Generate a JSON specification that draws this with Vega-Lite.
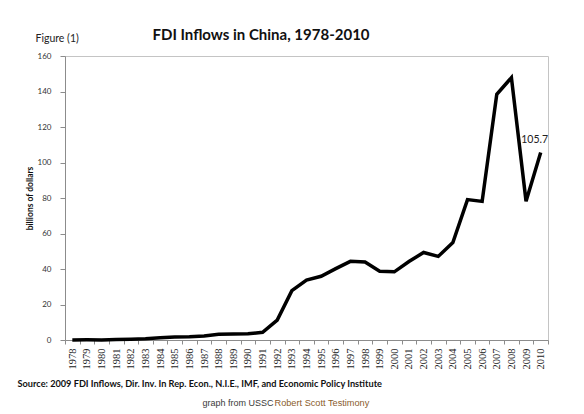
{
  "$schema": "https://vega.github.io/schema/vega-lite/v6.json",
  "width": 483,
  "height": 284,
  "autosize": "none",
  "padding": {"left": 65, "top": 56, "right": 36, "bottom": 74},
  "background": "#ffffff",
  "data": {
    "values": [
      {"year": "1978", "fdi": 0.0},
      {"year": "1979", "fdi": 0.08},
      {"year": "1980", "fdi": 0.06},
      {"year": "1981", "fdi": 0.27},
      {"year": "1982", "fdi": 0.43},
      {"year": "1983", "fdi": 0.64},
      {"year": "1984", "fdi": 1.26},
      {"year": "1985", "fdi": 1.66},
      {"year": "1986", "fdi": 1.88},
      {"year": "1987", "fdi": 2.31},
      {"year": "1988", "fdi": 3.19},
      {"year": "1989", "fdi": 3.39},
      {"year": "1990", "fdi": 3.49},
      {"year": "1991", "fdi": 4.37},
      {"year": "1992", "fdi": 11.2},
      {"year": "1993", "fdi": 27.8},
      {"year": "1994", "fdi": 33.8},
      {"year": "1995", "fdi": 35.9},
      {"year": "1996", "fdi": 40.2},
      {"year": "1997", "fdi": 44.3},
      {"year": "1998", "fdi": 43.9},
      {"year": "1999", "fdi": 38.7},
      {"year": "2000", "fdi": 38.4},
      {"year": "2001", "fdi": 44.2},
      {"year": "2002", "fdi": 49.3},
      {"year": "2003", "fdi": 47.1},
      {"year": "2004", "fdi": 54.9},
      {"year": "2005", "fdi": 79.1},
      {"year": "2006", "fdi": 78.1},
      {"year": "2007", "fdi": 138.4},
      {"year": "2008", "fdi": 147.8},
      {"year": "2009", "fdi": 78.2},
      {"year": "2010", "fdi": 105.7}
    ]
  },
  "resolve": {"axis": {"x": "independent", "y": "independent"}},
  "layer": [
    {
      "mark": {"type": "line", "color": "#000000", "strokeWidth": 3.5, "strokeJoin": "miter"},
      "encoding": {
        "x": {
          "field": "year",
          "type": "ordinal",
          "bandPosition": 0.5,
          "scale": {"type": "band", "paddingInner": 0, "paddingOuter": 0},
          "axis": {
            "orient": "bottom",
            "labelAngle": -90,
            "labelAlign": "right",
            "labelBaseline": "middle",
            "labelFont": "Liberation Serif",
            "labelFontSize": 10.5,
            "labelColor": "#222222",
            "labelPadding": 4,
            "tickBand": "extent",
            "tickSize": 4,
            "tickColor": "#8c8c8c",
            "domainColor": "#8c8c8c",
            "title": "Source: 2009 FDI Inflows, Dir. Inv. In Rep. Econ., N.I.E., IMF, and Economic Policy Institute",
            "titleFont": "Lato",
            "titleFontSize": 9.2,
            "titleFontWeight": "bold",
            "titleColor": "#111111",
            "titleAnchor": "start",
            "titleAlign": "left",
            "titleBaseline": "alphabetic",
            "titleX": -48,
            "titleY": 46
          }
        },
        "y": {
          "field": "fdi",
          "type": "quantitative",
          "scale": {"domain": [0, 160], "nice": false, "zero": true},
          "axis": {
            "orient": "left",
            "values": [0, 20, 40, 60, 80, 100, 120, 140, 160],
            "labelFont": "Lato",
            "labelFontSize": 8,
            "labelColor": "#333333",
            "labelPadding": 9,
            "tickSize": 5,
            "tickColor": "#8c8c8c",
            "domainColor": "#8c8c8c",
            "title": "billions of dollars",
            "titleFont": "Lato",
            "titleFontSize": 8.5,
            "titleFontWeight": "bold",
            "titleColor": "#111111",
            "titleAngle": -90,
            "titleAlign": "center",
            "titleBaseline": "middle",
            "titleX": -36,
            "titleY": 142
          }
        }
      }
    },
    {
      "transform": [{"filter": "datum.year == '2010'"}],
      "mark": {"type": "text", "font": "Lato", "fontSize": 10.5, "color": "#222222", "align": "center", "baseline": "alphabetic", "dx": -6, "dy": -9},
      "encoding": {
        "x": {
          "field": "year",
          "type": "ordinal",
          "bandPosition": 0.5,
          "axis": {
            "orient": "top",
            "labels": false,
            "ticks": false,
            "domain": false,
            "title": "FDI Inflows in China, 1978-2010",
            "titleFont": "Lato",
            "titleFontSize": 15,
            "titleFontWeight": "bold",
            "titleColor": "#111111",
            "titleAnchor": "start",
            "titleAlign": "left",
            "titleBaseline": "alphabetic",
            "titleX": 87,
            "titleY": -17
          }
        },
        "y": {
          "field": "fdi",
          "type": "quantitative",
          "axis": {
            "orient": "right",
            "labels": false,
            "ticks": false,
            "domain": false,
            "title": "graph from USSC",
            "titleFont": "Liberation Sans",
            "titleFontSize": 9,
            "titleFontWeight": "normal",
            "titleColor": "#3a3a3a",
            "titleAngle": 0,
            "titleAlign": "left",
            "titleBaseline": "alphabetic",
            "titleX": -346,
            "titleY": 349.5
          }
        },
        "text": {"field": "fdi", "type": "quantitative", "format": ".1f"}
      }
    },
    {
      "transform": [{"filter": "datum.year == '2010'"}],
      "mark": {"type": "point", "opacity": 0},
      "encoding": {
        "x": {
          "field": "year",
          "type": "ordinal",
          "bandPosition": 0.5,
          "axis": {
            "orient": "top",
            "labels": false,
            "ticks": false,
            "domain": false,
            "title": "Figure (1)",
            "titleFont": "Lato",
            "titleFontSize": 10.5,
            "titleFontWeight": "normal",
            "titleColor": "#222222",
            "titleAnchor": "start",
            "titleAlign": "left",
            "titleBaseline": "alphabetic",
            "titleX": -30,
            "titleY": -15
          }
        },
        "y": {
          "field": "fdi",
          "type": "quantitative",
          "axis": {
            "orient": "right",
            "labels": false,
            "ticks": false,
            "domain": false,
            "title": "Robert Scott Testimony",
            "titleFont": "Liberation Sans",
            "titleFontSize": 9.2,
            "titleFontWeight": "normal",
            "titleColor": "#8a5c2c",
            "titleAngle": 0,
            "titleAlign": "left",
            "titleBaseline": "alphabetic",
            "titleX": -274,
            "titleY": 349.5
          }
        }
      }
    }
  ],
  "config": {
    "view": {"stroke": "#c4c4c4", "strokeWidth": 1},
    "axis": {"grid": false}
  }
}
